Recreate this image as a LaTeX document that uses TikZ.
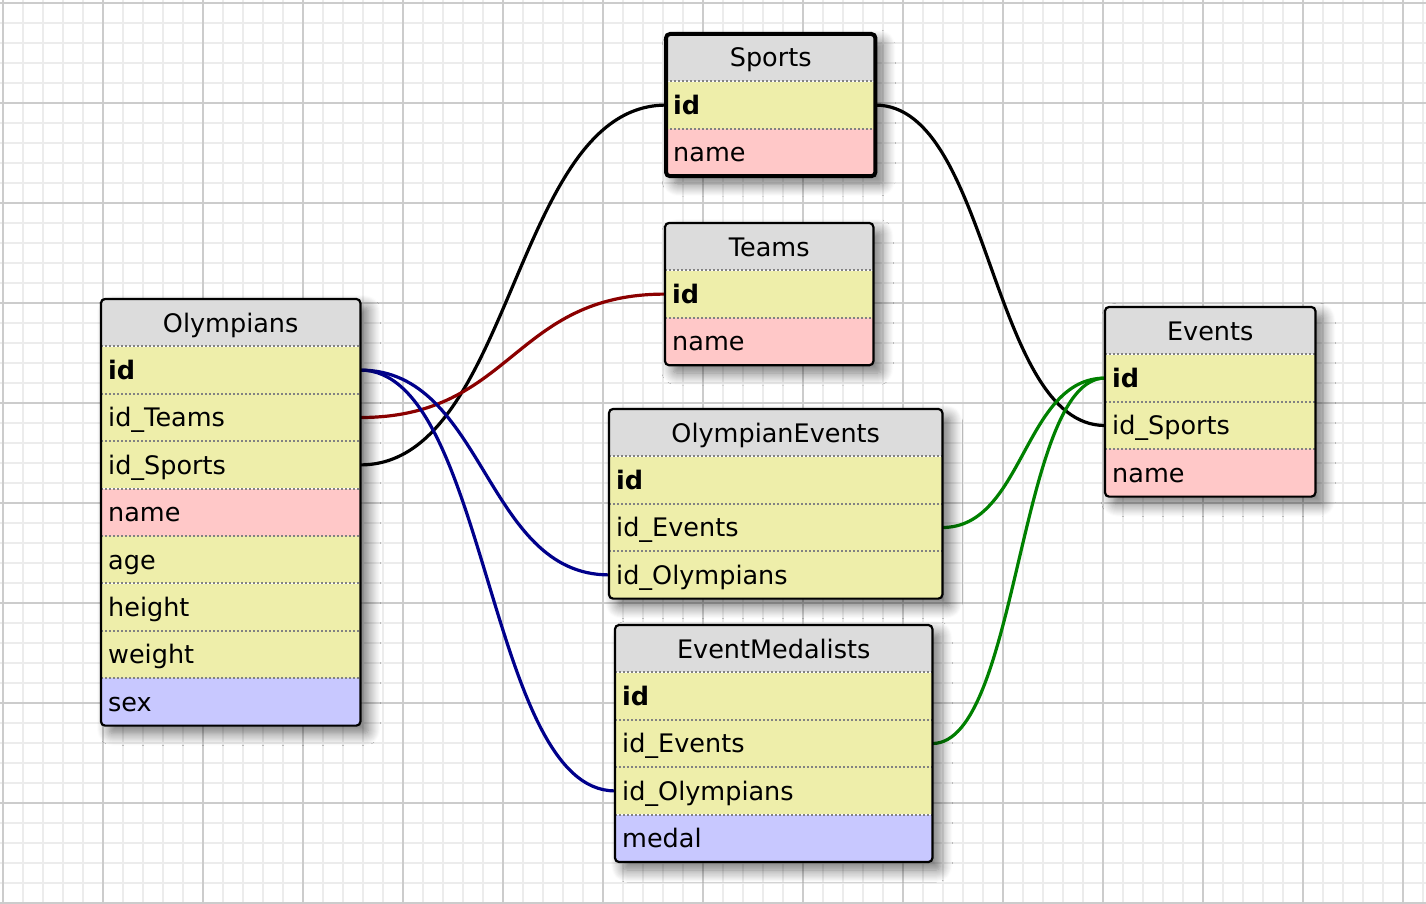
\documentclass[tikz,border=0pt]{standalone}
\usepackage{fontspec}
\setmainfont{DejaVu Sans}
\usetikzlibrary{positioning, fit, backgrounds, shadows.blur}
\definecolor{headgray}{RGB}{220,220,220}
\definecolor{keyyellow}{RGB}{238,238,170}
\definecolor{textpink}{RGB}{255,200,200}
\definecolor{enumblue}{RGB}{200,200,255}
\definecolor{gridminor}{RGB}{236,236,236}
\definecolor{gridmajor}{RGB}{204,204,204}
\definecolor{sepgray}{RGB}{130,130,130}
\definecolor{relred}{RGB}{139,0,0}
\definecolor{relblue}{RGB}{0,0,139}
\definecolor{relgreen}{RGB}{0,128,0}

\begin{document}
\begin{tikzpicture}[x=1pt, y=-1pt, font=\fontsize{25.5}{30}\selectfont]
    \tikzstyle{head} = [rectangle, fill=headgray, anchor=north west, minimum height=47pt, inner sep=0pt, text height=18.6pt, text depth=0pt]
    \tikzstyle{row} = [rectangle, fill=keyyellow, minimum height=47pt, inner ysep=0pt, inner xsep=7pt, text height=18.6pt, text depth=0pt, align=left]
    \tikzstyle{sep} = [sepgray, line width=2pt, dash pattern=on 2pt off 2pt]
    \tikzstyle{frame} = [black, line width=2.2pt, rounded corners=4pt]
    \tikzstyle{tabshadow} = [rectangle, inner sep=0pt, fill=white, rounded corners=4pt, blur shadow={shadow xshift=8pt, shadow yshift=-8pt, shadow blur radius=12pt, shadow blur steps=12, shadow opacity=55}]
    \tikzstyle{rel} = [line width=3.2pt]
    \useasboundingbox (0,0) rectangle (1426,904);

    % Olympians
    \node[head, minimum width=259pt] (olyHead) at (101,299) {Olympians};
    \begin{scope}[every node/.append style={row, text width=245pt}]
        \node[below=0pt of olyHead] (olyId) {\textbf{id}};
        \node[below=0pt of olyId] (olyTeams) {id\_Teams};
        \node[below=0pt of olyTeams] (olySports) {id\_Sports};
        \node[below=0pt of olySports, fill=textpink] (olyName) {name};
        \node[below=0pt of olyName] (olyAge) {age};
        \node[below=0pt of olyAge] (olyHeight) {height};
        \node[below=0pt of olyHeight] (olyWeight) {weight};
        \node[below=0pt of olyWeight, fill=enumblue] (olySex) {sex};
    \end{scope}

    % Sports
    \node[head, minimum width=209pt] (spHead) at (666,34) {Sports};
    \begin{scope}[every node/.append style={row, text width=195pt}]
        \node[below=0pt of spHead] (spId) {\textbf{id}};
        \node[below=0pt of spId, fill=textpink] (spName) {name};
    \end{scope}

    % Teams
    \node[head, minimum width=208pt] (tmHead) at (665,223) {Teams};
    \begin{scope}[every node/.append style={row, text width=194pt}]
        \node[below=0pt of tmHead] (tmId) {\textbf{id}};
        \node[below=0pt of tmId, fill=textpink] (tmName) {name};
    \end{scope}

    % OlympianEvents
    \node[head, minimum width=333pt] (oeHead) at (609,409) {OlympianEvents};
    \begin{scope}[every node/.append style={row, text width=319pt}]
        \node[below=0pt of oeHead] (oeId) {\textbf{id}};
        \node[below=0pt of oeId] (oeEvents) {id\_Events};
        \node[below=0pt of oeEvents] (oeOlympians) {id\_Olympians};
    \end{scope}

    % EventMedalists
    \node[head, minimum width=317pt] (emHead) at (615,625) {EventMedalists};
    \begin{scope}[every node/.append style={row, text width=303pt}]
        \node[below=0pt of emHead] (emId) {\textbf{id}};
        \node[below=0pt of emId] (emEvents) {id\_Events};
        \node[below=0pt of emEvents] (emOlympians) {id\_Olympians};
        \node[below=0pt of emOlympians, fill=enumblue] (emMedal) {medal};
    \end{scope}

    % Events
    \node[head, minimum width=210pt] (evHead) at (1105,307) {Events};
    \begin{scope}[every node/.append style={row, text width=196pt}]
        \node[below=0pt of evHead] (evId) {\textbf{id}};
        \node[below=0pt of evId] (evSports) {id\_Sports};
        \node[below=0pt of evSports, fill=textpink] (evName) {name};
    \end{scope}

    % dotted row separators
    \foreach \r in {olyId, olyTeams, olySports, olyName, olyAge, olyHeight, olyWeight, olySex,
                    spId, spName, tmId, tmName, oeId, oeEvents, oeOlympians,
                    emId, emEvents, emOlympians, emMedal, evId, evSports, evName}
        \draw[sep] (\r.north west) -- (\r.north east);

    % table frames
    \draw[frame] (olyHead.north west) rectangle (olySex.south east);
    \draw[frame, line width=4pt] (spHead.north west) rectangle (spName.south east);
    \draw[frame] (tmHead.north west) rectangle (tmName.south east);
    \draw[frame] (oeHead.north west) rectangle (oeOlympians.south east);
    \draw[frame] (emHead.north west) rectangle (emMedal.south east);
    \draw[frame] (evHead.north west) rectangle (evName.south east);

    \begin{scope}[on background layer]
        % grid paper
        \draw[gridminor, line width=1.5pt, shift={(3,3)}] (-3,-3) grid[step=20pt] (1423,901);
        \draw[gridmajor, line width=1.5pt, shift={(3,3)}] (-3,-3) grid[step=100pt] (1423,901);

        % relations
        \draw[rel, black] (olySports.east) .. controls +(153,0) and +(-153,0) .. (spId.west);
        \draw[rel, relred] (olyTeams.east) .. controls +(152.5,0) and +(-152.5,0) .. (tmId.west);
        \draw[rel, relblue] (olyId.east) .. controls +(124.5,0) and +(-124.5,0) .. (oeOlympians.west);
        \draw[rel, relblue] (olyId.east) .. controls +(127.5,0) and +(-127.5,0) .. (emOlympians.west);
        \draw[rel, black] (spId.east) .. controls +(115,0) and +(-115,0) .. (evSports.west);
        \draw[rel, relgreen] (oeEvents.east) .. controls +(81.5,0) and +(-81.5,0) .. (evId.west);
        \draw[rel, relgreen] (emEvents.east) .. controls +(86.5,0) and +(-86.5,0) .. (evId.west);

        % shadows
        \foreach \t/\b in {olyHead/olySex, spHead/spName, tmHead/tmName,
                           oeHead/oeOlympians, emHead/emMedal, evHead/evName}
            \node[tabshadow, fit=(\t)(\b)] {};
    \end{scope}
\end{tikzpicture}
\end{document}
